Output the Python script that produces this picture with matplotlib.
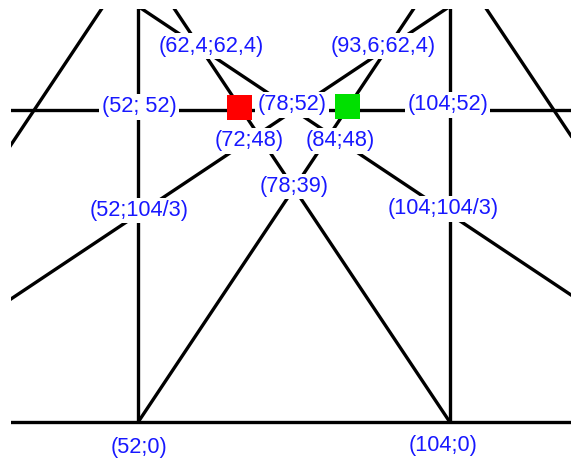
import matplotlib
matplotlib.use("Agg")
import matplotlib.pyplot as plt

# line segments: start and end points (clipped by the axes)
seg_x0 = [0, 0, 52, 104, 52, 104, 0, 156, 0, 156]
seg_y0 = [0, 52, 0, 0, 0, 0, 0, 0, 0, 0]
seg_x1 = [156, 156, 52, 104, 104, 52, 52, 104, 117, 39]
seg_y1 = [0, 52, 80, 80, 78, 78, 78, 78, 78, 78]

# point labels
lab_text = ["(62,4;62,4)", "(93,6;62,4)", "(52; 52)", "(78;52)", "(104;52)",
            "(72;48)", "(84;48)", "(78;39)", "(52;104/3)", "(104;104/3)",
            "(52;0)", "(104;0)"]
lab_x = [64.2, 92.9, 52.2, 77.7, 103.6, 70.5, 85.7, 78.0, 52.2, 102.9, 52.2, 102.8]
lab_y = [62.7, 62.7, 52.6, 52.9, 52.9, 46.9, 46.9, 39.3, 35.3, 35.6, -4.2, -3.9]

# coloured squares
sq_x = [68.8, 86.8]
sq_y = [52.6, 52.7]
sq_col = ["#ff0000", "#00e000"]

fig = plt.figure(figsize=(5.71, 4.59), dpi=100)
ax = fig.add_axes([11 / 571, 0, 560 / 571, 450 / 459])
ax.set_xlim(30.83, 124.17)
ax.set_ylim(-6.12, 68.88)
ax.axis("off")

for x0, y0, x1, y1 in zip(seg_x0, seg_y0, seg_x1, seg_y1):
    ax.plot([x0, x1], [y0, y1], color="black", lw=2.4, solid_capstyle="butt", zorder=1)

for t, x, y in zip(lab_text, lab_x, lab_y):
    ax.text(x, y, t, ha="center", va="center", color="#1818ff", fontsize=15.7,
            family="Liberation Sans", zorder=3,
            bbox=dict(facecolor="white", edgecolor="none", pad=1.8))

for x, y, c in zip(sq_x, sq_y, sq_col):
    ax.plot(x, y, marker="s", markersize=18, color=c, markeredgewidth=0, zorder=4)

fig.savefig("out.png", dpi=100)
